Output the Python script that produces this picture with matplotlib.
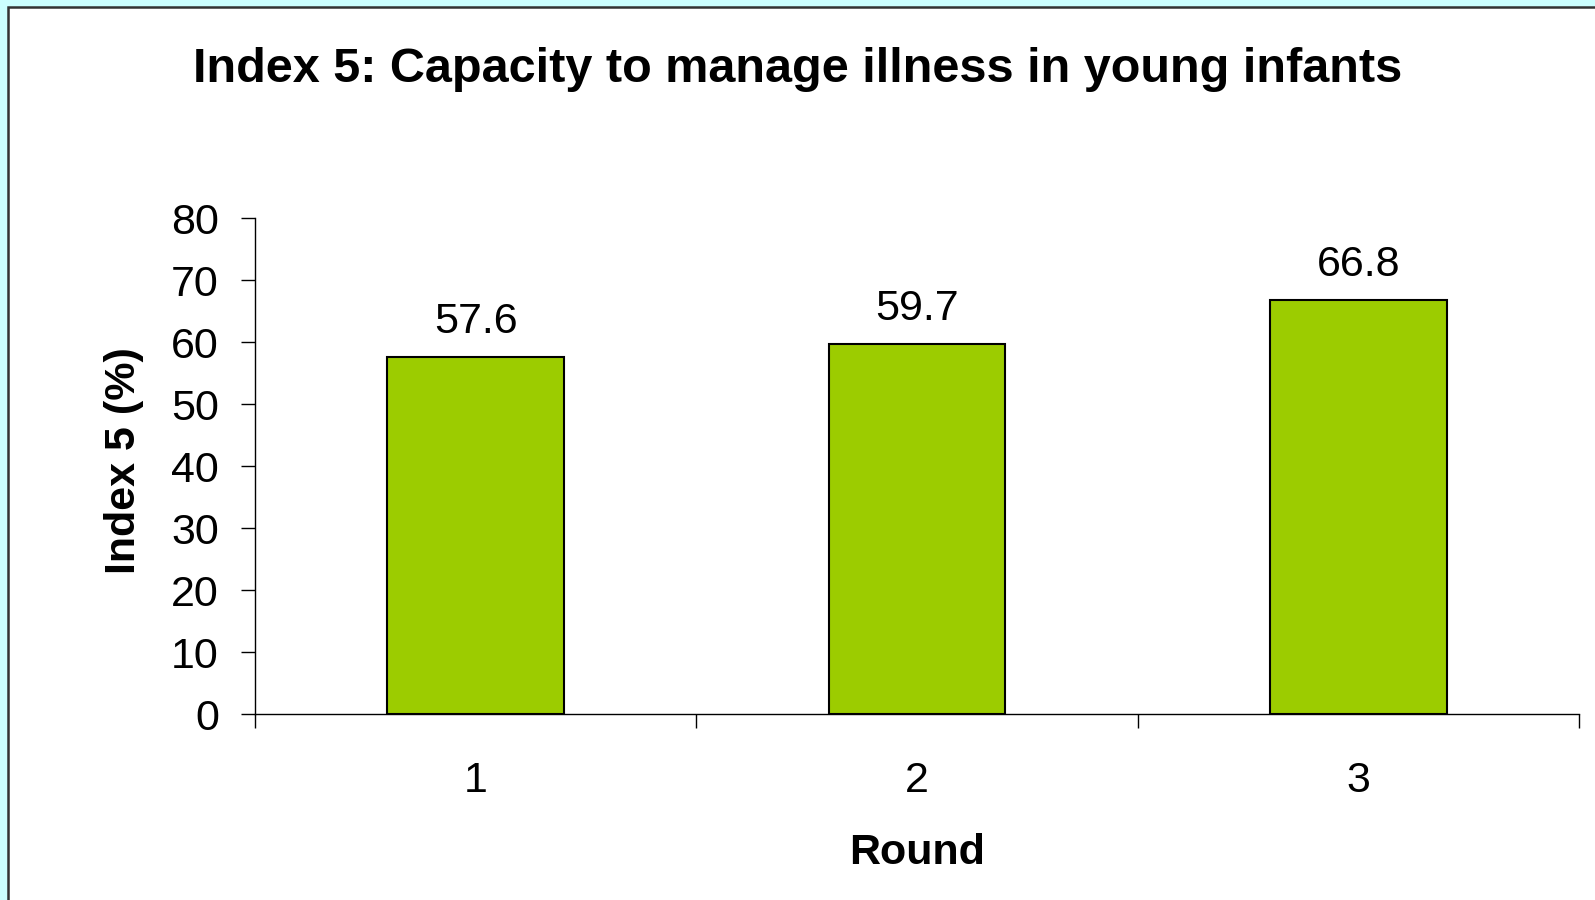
import matplotlib
matplotlib.use("Agg")
import matplotlib.pyplot as plt
from matplotlib.patches import Rectangle

rounds = ["1", "2", "3"]
index5 = [57.6, 59.7, 66.8]
yticks = [0, 10, 20, 30, 40, 50, 60, 70, 80]

plt.rcParams['font.family'] = ['Liberation Sans', 'DejaVu Sans']

W, H = 1595, 900
fig = plt.figure(figsize=(W / 100, H / 100), dpi=100)
fig.patch.set_facecolor('#ccffff')

# white panel with dark frame, running off the right and bottom edges
fig.patches.append(Rectangle((8 / W, -0.05), 1.1, 1 - 7 / H + 0.05,
                             transform=fig.transFigure, facecolor='white',
                             edgecolor='#333333', linewidth=1.8, zorder=-10))

ax = fig.add_axes([255 / W, 1 - 714 / H, (1579 - 255) / W, (714 - 218) / H])
ax.set_facecolor('none')

x = list(range(1, len(rounds) + 1))
bars = ax.bar(x, index5, width=0.4, color='#9ccc00', edgecolor='black', linewidth=1.5)

for xi, v in zip(x, index5):
    ax.annotate(f"{v}", (xi, v), xytext=(0, 11), textcoords='offset points',
                ha='center', va='bottom', fontsize=31)

ax.set_xlim(0.5, len(rounds) + 0.5)
ax.set_ylim(0, 80)
ax.set_yticks(yticks)
ax.set_xticks(x)
ax.set_xticklabels(rounds)
ax.set_xticks([i + 0.5 for i in range(len(rounds) + 1)], minor=True)

ax.tick_params(axis='x', which='major', length=0, pad=34, labelsize=31)
ax.tick_params(axis='x', which='minor', length=10, width=1, direction='out')
ax.tick_params(axis='y', length=10, width=1, pad=16, labelsize=31)

for s in ['top', 'right']:
    ax.spines[s].set_visible(False)
for s in ['left', 'bottom']:
    ax.spines[s].set_linewidth(1)

ax.set_xlabel("Round", fontsize=31, fontweight='bold')
ax.xaxis.set_label_coords(0.5, -0.24)
ax.set_ylabel("Index 5 (%)", fontsize=31, fontweight='bold')
ax.yaxis.set_label_coords(-0.084, 0.51)

fig.text(0.5, 1 - 69 / H, "Index 5: Capacity to manage illness in young infants",
         ha='center', va='center', fontsize=35, fontweight='bold')

fig.savefig("out.png", dpi=100, facecolor=fig.get_facecolor())
